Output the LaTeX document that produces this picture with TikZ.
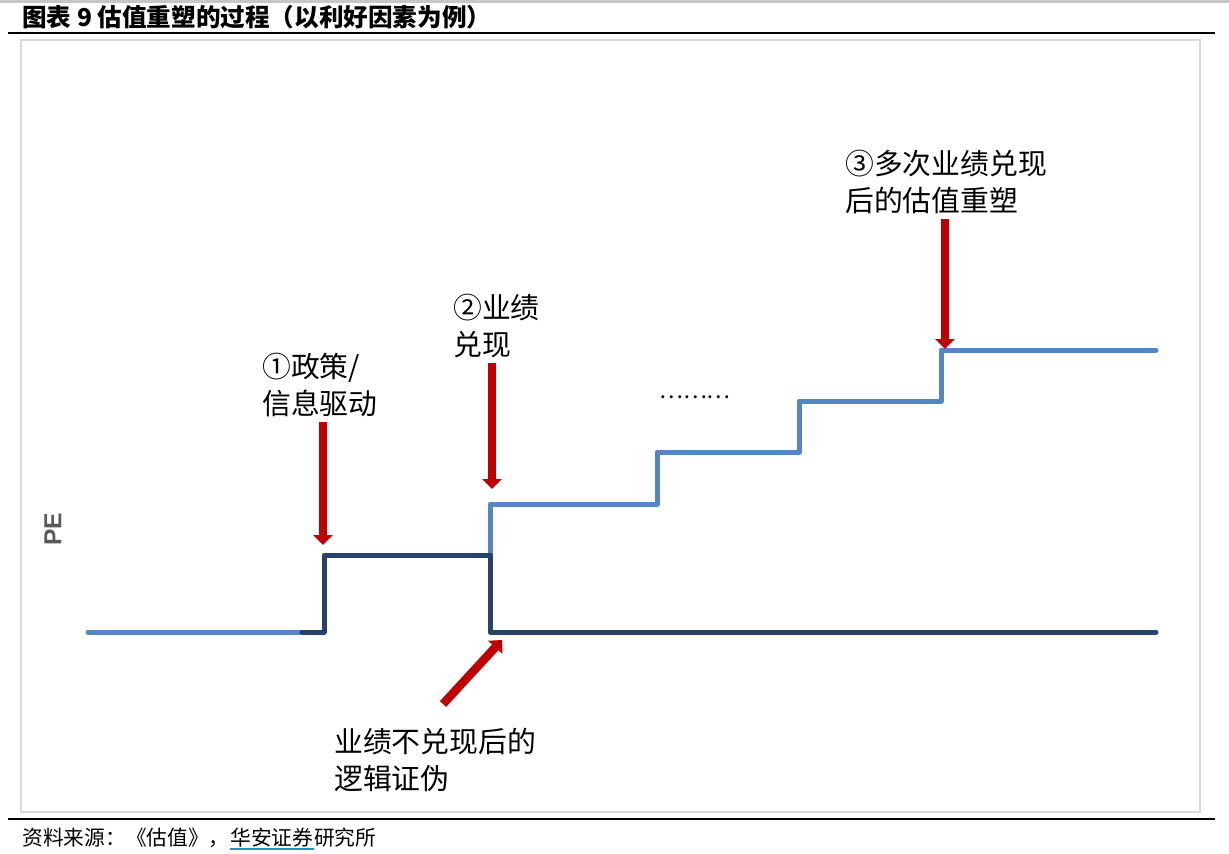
\documentclass[tikz,border=0pt]{standalone}
\usepackage{fontspec}
\usetikzlibrary{arrows.meta,positioning}
\newfontfamily\cjk{Noto Sans CJK SC}
\newfontfamily\latin{Liberation Sans}
\definecolor{stepBlue}{HTML}{5585C3}
\definecolor{stepNavy}{HTML}{28436A}
\definecolor{signalRed}{HTML}{C00000}
\definecolor{frameGray}{HTML}{D9D9D9}
\definecolor{labelGray}{HTML}{595959}
\definecolor{linkTeal}{HTML}{1B9AB8}

\begin{document}
\begin{tikzpicture}[
        x=0.02cm, y=-0.02cm,
        note/.style={inner sep=0pt, align=left, anchor=west, font=\cjk\fontsize{16.4}{20.6}\selectfont},
        foot/.style={inner sep=0pt, anchor=base west, font=\cjk\fontsize{11.8}{14}\selectfont},
        peline/.style={line width=0.1cm, line cap=round, line join=round},
        redarrow/.style={-{Triangle[length=0.2cm, width=0.38cm]}, line width=0.17cm, draw=signalRed}
      ]
        \useasboundingbox (0,0) rectangle (1229,853);
        \fill[gray!45] (0,0) rectangle (1229,2.5);
        \node[anchor=west, inner sep=0pt, font=\cjk\bfseries\fontsize{14}{16}\selectfont] (title) at (22,17) {图表 9 估值重塑的过程（以利好因素为例）};
        \draw[line width=0.05cm] (8,33) -- (1215,33);
        \draw[frameGray, line width=0.04cm] (21,40) rectangle (1200,812);
        \draw[line width=0.05cm] (8,819) -- (1215,819);
        \draw[peline, stepBlue] (88,632) -- (300,632);
        \draw[peline, stepBlue] (490,555) -- (490,504) -- (657,504) -- (657,452) -- (799,452) -- (799,401) -- (941,401) -- (941,350) -- (1156,350);
        \draw[peline, stepNavy] (302,632) -- (324,632) -- (324,555) -- (490,555) -- (490,632) -- (1156,632);
        \coordinate (hit1) at (323,545);
        \coordinate (hit2) at (492,489);
        \coordinate (hit3) at (945,349);
        \coordinate (hit4) at (502,640);
        \coordinate (tail4) at (443,704);
        \node[note] (policy) at (262,385) {①政策/\\信息驱动};
        \node[note] (earn) at (453,326) {②业绩\\兑现};
        \node[note] (reshape) at (845,182) {③多次业绩兑现\\后的估值重塑};
        \node[note] (falsify) at (334,760) {业绩不兑现后的\\逻辑证伪};
        \node[inner sep=0pt, font=\cjk\fontsize{12.8}{15}\selectfont] (dots) at (695,397) {………};
        \node[rotate=90, inner sep=0pt, text=labelGray, font=\latin\bfseries\fontsize{14}{16}\selectfont] (pe) at (53,529) {PE};
        \draw[redarrow, shorten <=0.1cm] (policy.south -| hit1) -- (hit1);
        \draw[redarrow, shorten <=0.1cm] (earn.south -| hit2) -- (hit2);
        \draw[redarrow, shorten <=0.1cm] (reshape.south -| hit3) -- (hit3);
        \draw[redarrow] (tail4) -- (hit4);
        \node[foot] (src) at (22,845) {资料来源：《估值》，};
        \node[foot] (firm) at (src.base east) {华安证券};
        \node[foot] (inst) at (firm.base east) {研究所};
        \draw[linkTeal, line width=0.04cm] ([yshift=-0.08cm]firm.base west) -- ([yshift=-0.08cm]firm.base east);
      \end{tikzpicture}
\end{document}
